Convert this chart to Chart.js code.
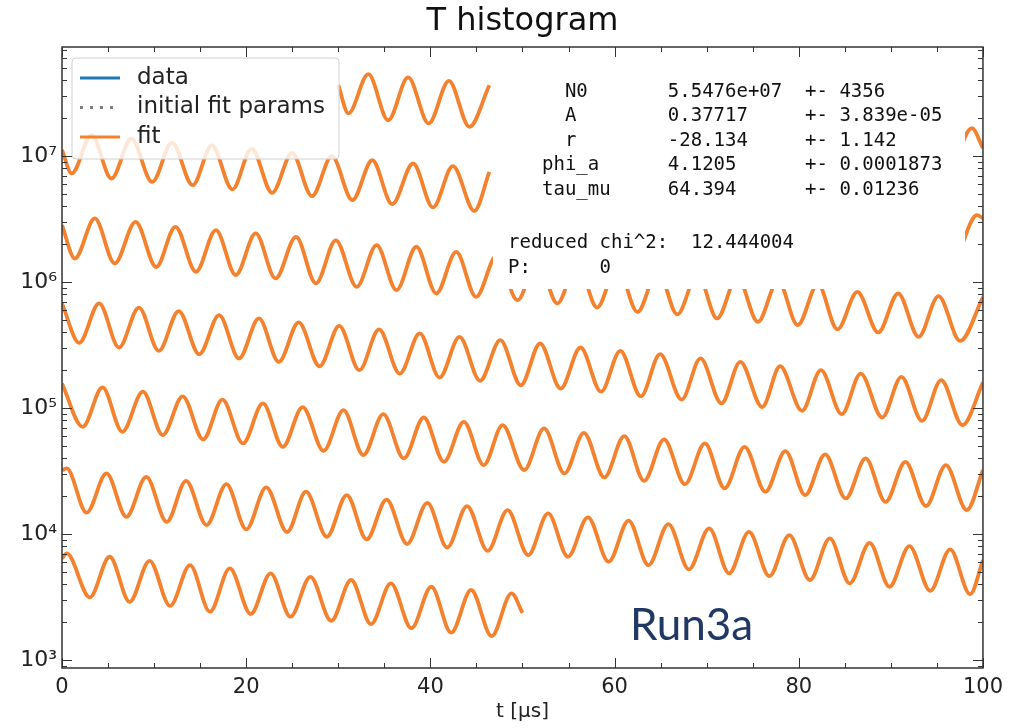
<!DOCTYPE html>
<html>
<head>
<meta charset="utf-8">
<script src="https://cdn.jsdelivr.net/npm/chart.js@4.4.0/dist/chart.umd.min.js"></script>
<style>
  html, body { margin: 0; padding: 0; background: #fff; }
</style>
</head>
<body>
<canvas id="c" width="1010" height="728"></canvas>
<script>
// t in microseconds, counts per bin; each row is one 100 us slice of the wiggle plot
const rowA_t = [30.0, 31.1, 33.26, 35.42, 37.58, 39.82, 42.01, 44.24, 46.4];
const rowA_n = [3.66e7, 2.19e7, 4.48e7, 1.93e7, 4.22e7, 1.82e7, 3.96e7, 1.71e7, 3.66e7];
const rowAEnd_t = [96.54, 98.8, 100];
const rowAEnd_n = [6.93e6, 1.67e7, 1.16e7];

const rowB_t = [0, 1.05, 3.21, 5.37, 7.53, 9.79, 11.95, 14.18, 16.27, 18.5, 20.59, 22.82, 24.98, 27.14, 29.3, 31.53, 33.69, 35.85, 38.12, 40.28, 42.44, 44.78, 46.4];
const rowB_n = [1.12e7, 7.30e6, 1.47e7, 6.65e6, 1.38e7, 6.25e6, 1.28e7, 5.89e6, 1.22e7, 5.45e6, 1.15e7, 5.12e6, 1.06e7, 4.82e6, 1.0e7, 4.48e6, 9.29e6, 4.16e6, 8.75e6, 3.92e6, 8.33e6, 3.68e6, 7.50e6];
const rowBEnd_t = [97.3, 99.35, 100];
const rowBEnd_n = [1.64e6, 3.40e6, 3.22e6];

const rowC_t = [0, 1.40, 3.56, 5.72, 7.99, 10.23, 12.31, 14.55, 16.71, 18.87, 21.03, 23.19, 25.41, 27.57, 29.73, 32.0, 34.16, 36.32, 38.48, 40.64, 42.8, 44.96, 47.19, 49.46, 51.62, 53.78, 55.94, 58.1, 60.26, 62.49, 64.69, 66.81, 69.01, 71.13, 73.33, 75.56, 77.75, 79.88, 82.07, 84.2, 86.36, 88.63, 90.79, 93.01, 95.17, 97.52, 100];
const rowC_n = [2.83e6, 1.54e6, 3.21e6, 1.41e6, 3.01e6, 1.32e6, 2.75e6, 1.21e6, 2.59e6, 1.14e6, 2.44e6, 1.07e6, 2.29e6, 9.78e5, 2.15e6, 9.18e5, 1.97e6, 8.65e5, 1.91e6, 8.13e5, 1.74e6, 7.64e5, 1.62e6, 7.19e5, 1.52e6, 6.77e5, 1.43e6, 6.29e5, 1.34e6, 5.81e5, 1.24e6, 5.55e5, 1.17e6, 5.15e5, 1.10e6, 4.84e5, 1.03e6, 4.56e5, 9.64e5, 4.22e5, 8.38e5, 3.99e5, 8.13e5, 3.68e5, 7.74e5, 3.42e5, 7.60e5];

const rowD_t = [0, 1.87, 4.03, 6.19, 8.35, 10.51, 12.67, 14.9, 17.06, 19.22, 21.38, 23.54, 25.7, 27.97, 30.1, 32.29, 34.42, 36.68, 38.84, 41.0, 43.16, 45.39, 47.59, 49.82, 51.91, 54.14, 56.3, 58.53, 60.62, 62.85, 64.94, 67.28, 69.33, 71.6, 73.65, 76.03, 77.97, 80.35, 82.4, 84.67, 86.72, 89.06, 91.14, 93.38, 95.46, 97.77, 100];
const rowD_n = [6.78e5, 3.30e5, 6.78e5, 3.03e5, 6.29e5, 2.85e5, 5.89e5, 2.68e5, 5.47e5, 2.48e5, 5.15e5, 2.33e5, 4.79e5, 2.15e5, 4.50e5, 2.00e5, 4.22e5, 1.88e5, 3.92e5, 1.75e5, 3.68e5, 1.65e5, 3.47e5, 1.52e5, 3.26e5, 1.43e5, 3.03e5, 1.35e5, 2.85e5, 1.24e5, 2.68e5, 1.17e5, 2.48e5, 1.09e5, 2.33e5, 1.02e5, 2.15e5, 9.53e4, 2.00e5, 8.95e4, 1.88e5, 8.43e4, 1.77e5, 7.93e4, 1.67e5, 7.33e4, 1.60e5];

const rowE_t = [0, 2.24, 4.40, 6.55, 8.78, 10.94, 13.1, 15.33, 17.42, 19.65, 21.81, 23.97, 26.13, 28.4, 30.56, 32.72, 34.88, 37.12, 39.28, 41.47, 43.63, 45.79, 47.84, 50.18, 52.34, 54.57, 56.66, 58.89, 61.05, 63.21, 65.37, 67.64, 69.8, 71.95, 74.11, 76.38, 78.54, 80.7, 82.86, 85.1, 87.26, 89.42, 91.58, 93.81, 95.97, 98.24, 100];
const rowE_n = [1.57e5, 7.11e4, 1.46e5, 6.49e4, 1.35e5, 6.11e4, 1.24e5, 5.65e4, 1.17e5, 5.25e4, 1.09e5, 4.93e4, 1.02e5, 4.58e4, 9.64e4, 4.24e4, 8.95e4, 3.99e4, 8.43e4, 3.75e4, 7.79e4, 3.53e4, 7.33e4, 3.22e4, 6.90e4, 3.03e4, 6.37e4, 2.82e4, 6.00e4, 2.65e4, 5.65e4, 2.49e4, 5.25e4, 2.31e4, 4.93e4, 2.17e4, 4.56e4, 2.04e4, 4.30e4, 1.92e4, 3.99e4, 1.80e4, 3.75e4, 1.67e4, 3.53e4, 1.55e4, 3.22e4];

const rowF_t = [0, 0.51, 2.67, 4.83, 6.99, 9.15, 11.37, 13.47, 15.69, 17.85, 20.01, 22.17, 24.44, 26.49, 28.76, 30.92, 33.08, 35.24, 37.47, 39.67, 41.83, 43.98, 46.22, 48.38, 50.62, 52.78, 54.94, 57.1, 59.36, 61.52, 63.68, 65.84, 68.07, 70.27, 72.43, 74.59, 76.81, 78.97, 81.21, 83.37, 85.53, 87.69, 89.85, 92.01, 94.28, 96.44, 98.6, 100];
const rowF_n = [3.22e4, 3.32e4, 1.48e4, 3.03e4, 1.37e4, 2.85e4, 1.25e4, 2.65e4, 1.18e4, 2.49e4, 1.09e4, 2.35e4, 1.04e4, 2.17e4, 9.53e3, 2.04e4, 9.08e3, 1.88e4, 8.34e3, 1.77e4, 7.83e3, 1.67e4, 7.36e3, 1.55e4, 6.81e3, 1.46e4, 6.61e3, 1.36e4, 6.03e3, 1.28e4, 5.67e3, 1.20e4, 5.25e3, 1.11e4, 4.88e3, 1.04e4, 4.64e3, 9.82e3, 4.32e3, 9.25e3, 4.06e3, 8.53e3, 3.82e3, 8.04e3, 3.55e3, 7.57e3, 3.34e3, 6.22e3];

const rowG_t = [0, 0.51, 3.02, 5.18, 7.34, 9.5, 11.74, 13.9, 16.06, 18.22, 20.49, 22.65, 24.81, 26.97, 29.23, 31.39, 33.55, 35.71, 37.94, 40.1, 42.26, 44.42, 46.65, 48.81, 50.0];
const rowG_n = [6.41e3, 7.03e3, 3.15e3, 6.61e3, 2.90e3, 6.14e3, 2.69e3, 5.67e3, 2.42e3, 5.35e3, 2.32e3, 4.88e3, 2.21e3, 4.58e3, 2.05e3, 4.32e3, 1.93e3, 4.06e3, 1.79e3, 3.82e3, 1.65e3, 3.60e3, 1.55e3, 3.38e3, 2.37e3];

// axis ticks
const xTicks = [0, 20, 40, 60, 80, 100];
const yTicks = [1e3, 1e4, 1e5, 1e6, 1e7];

// fit results box
const parNames = ['N0', 'A', 'r', 'phi_a', 'tau_mu'];
const parValues = ['5.5476e+07', '0.37717', '-28.134', '4.1205', '64.394'];
const parErrors = ['4356', '3.839e-05', '1.142', '0.0001873', '0.01236'];
const chi2Text = 'reduced chi^2:  12.444004';
const pText = 'P:      0';

const FIT_COLOR = '#f3812d';
const rows = [
  [rowA_t, rowA_n], [rowAEnd_t, rowAEnd_n], [rowB_t, rowB_n], [rowBEnd_t, rowBEnd_n],
  [rowC_t, rowC_n], [rowD_t, rowD_n], [rowE_t, rowE_n], [rowF_t, rowF_n], [rowG_t, rowG_n]
];

const datasets = [
  { label: 'data', data: [], borderColor: '#1f77b4', borderWidth: 3 },
  { label: 'initial fit params', data: [], borderColor: '#7f7f7f', borderWidth: 3, borderDash: [3, 7] }
];
rows.forEach(([ts, ns]) => {
  datasets.push({
    label: 'fit',
    data: ts.map((t, i) => ({ x: t, y: ns[i] })),
    borderColor: FIT_COLOR,
    borderWidth: 3.8,
    pointRadius: 0,
    cubicInterpolationMode: 'monotone',
    fill: false
  });
});

const SUP = { 3: '³', 4: '⁴', 5: '⁵', 6: '⁶', 7: '⁷' };

function center(s, w) {
  const pad = w - s.length;
  const l = Math.floor(pad / 2);
  return ' '.repeat(l) + s + ' '.repeat(pad - l);
}

// 文本框、图例、刻度和边框
const overlay = {
  id: 'overlay',
  afterDatasetsDraw(chart) {
    const ctx = chart.ctx;
    ctx.save();

    // fit result box (covers the curves below it, like the matplotlib bbox)
    ctx.fillStyle = '#fff';
    ctx.fillRect(493, 62, 472, 227);
    ctx.fillStyle = '#111';
    ctx.font = '19px "DejaVu Sans Mono", monospace';
    ctx.textBaseline = 'middle';
    ctx.textAlign = 'left';
    parNames.forEach((n, i) => {
      const line = center(n, 6) + '     ' + parValues[i].padEnd(12) + '+- ' + parErrors[i];
      ctx.fillText(line, 542, 92 + i * 24.5);
    });
    ctx.fillText(chi2Text, 508, 243);
    ctx.fillText(pText, 508, 268);

    // legend
    const lx = 72, ly = 58, lw = 267, lh = 101;
    ctx.beginPath();
    ctx.roundRect(lx, ly, lw, lh, 4);
    ctx.fillStyle = 'rgba(255,255,255,0.8)';
    ctx.fill();
    ctx.strokeStyle = '#d0d0d0';
    ctx.lineWidth = 1;
    ctx.stroke();
    const entries = chart.data.datasets.slice(0, 3);
    ctx.font = '23px "DejaVu Sans", sans-serif';
    entries.forEach((ds, i) => {
      const y = 78 + i * 29.5;
      ctx.beginPath();
      ctx.setLineDash(ds.borderDash || []);
      ctx.strokeStyle = ds.borderColor;
      ctx.lineWidth = 3;
      ctx.moveTo(80, y);
      ctx.lineTo(120, y);
      ctx.stroke();
      ctx.setLineDash([]);
      ctx.fillStyle = '#222';
      ctx.fillText(ds.label, 137, y);
    });
    ctx.restore();
  },
  afterDraw(chart) {
    const ctx = chart.ctx, a = chart.chartArea;
    const xs = chart.scales.x, ys = chart.scales.y;
    ctx.save();
    ctx.strokeStyle = '#333';
    ctx.lineWidth = 1;
    ctx.beginPath();
    for (let t = 0; t <= 100; t += 5) {
      const px = Math.round(xs.getPixelForValue(t)) + 0.5;
      const len = t % 20 === 0 ? 10 : 5;
      ctx.moveTo(px, a.bottom); ctx.lineTo(px, a.bottom - len);
      ctx.moveTo(px, a.top); ctx.lineTo(px, a.top + len);
    }
    for (let e = 2; e <= 7; e++) {
      for (let m = 1; m <= 9; m++) {
        const v = m * Math.pow(10, e);
        if (v < ys.min || v > ys.max) continue;
        const py = Math.round(ys.getPixelForValue(v)) + 0.5;
        const len = m === 1 ? 10 : 5;
        ctx.moveTo(a.left, py); ctx.lineTo(a.left + len, py);
        ctx.moveTo(a.right, py); ctx.lineTo(a.right - len, py);
      }
    }
    ctx.stroke();
    ctx.lineWidth = 1.5;
    ctx.strokeRect(a.left, a.top, a.right - a.left, a.bottom - a.top);

    // title
    ctx.fillStyle = '#111';
    ctx.font = '32px "DejaVu Sans", sans-serif';
    ctx.textAlign = 'center';
    ctx.textBaseline = 'middle';
    ctx.fillText('T histogram', (a.left + a.right) / 2, 22);

    // run label
    ctx.fillStyle = '#1f3864';
    ctx.font = '44px Lato, sans-serif';
    ctx.textAlign = 'left';
    ctx.textBaseline = 'alphabetic';
    ctx.fillText('Run3a', 630, 640);
    ctx.restore();
  }
};

new Chart(document.getElementById('c'), {
  type: 'line',
  data: { datasets },
  options: {
    responsive: false,
    animation: false,
    layout: { padding: { top: 47, right: 22, left: 0, bottom: 0 } },
    plugins: { legend: { display: false }, tooltip: { enabled: false }, title: { display: false } },
    elements: { point: { radius: 0 } },
    scales: {
      x: {
        type: 'linear', min: 0, max: 100,
        afterBuildTicks: s => { s.ticks = xTicks.map(v => ({ value: v })); },
        afterFit: s => { s.height = 60; },
        grid: { display: false, drawTicks: false },
        border: { display: false },
        ticks: { color: '#222', font: { size: 21, family: 'DejaVu Sans' }, padding: 7, maxRotation: 0 },
        title: { display: true, text: 't [μs]', color: '#222', font: { size: 20, family: 'DejaVu Sans' }, padding: { top: 0, bottom: 4 } }
      },
      y: {
        type: 'logarithmic', min: 865, max: 7.36e7,
        afterBuildTicks: s => { s.ticks = yTicks.map(v => ({ value: v })); },
        afterFit: s => { s.width = 62; },
        grid: { display: false, drawTicks: false },
        border: { display: false },
        ticks: {
          color: '#222', font: { size: 22, family: 'DejaVu Sans' }, padding: 5, autoSkip: false,
          callback: v => '10' + SUP[Math.round(Math.log10(v))]
        }
      }
    }
  },
  plugins: [overlay]
});
</script>
</body>
</html>
